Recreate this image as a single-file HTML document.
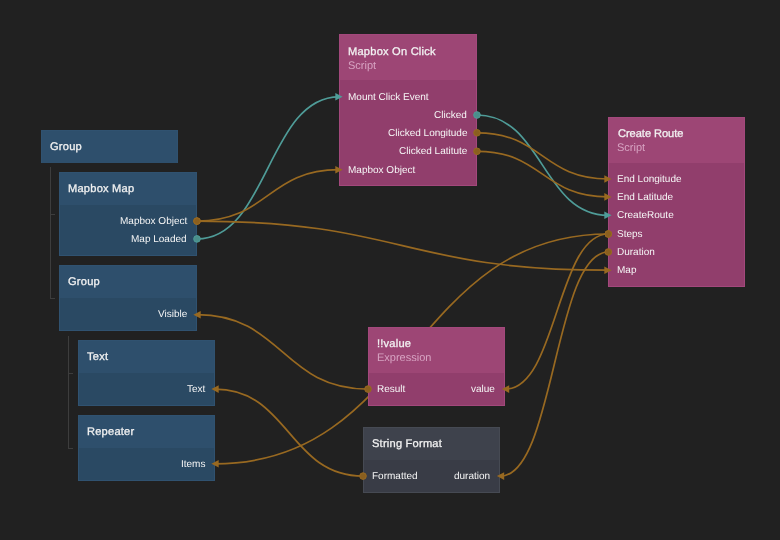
<!DOCTYPE html><html><head><meta charset="utf-8"><style>
*{margin:0;padding:0;box-sizing:border-box}
html,body{width:780px;height:540px;overflow:hidden;background:#212121}
body{position:relative;font-family:"Liberation Sans",sans-serif;color:#f0f0f0;text-rendering:geometricPrecision}
.n{position:absolute;border:1px solid}
.h{position:absolute;left:0;right:0;top:0}
.t{position:absolute;will-change:transform;left:8px;font-size:11.1px;-webkit-text-stroke:0.3px #f2f2f2;line-height:14px;white-space:nowrap;letter-spacing:0.22px;color:#f2f2f2}
.s{position:absolute;will-change:transform;left:8px;font-size:11px;line-height:14px;white-space:nowrap;color:#d7a3c2}
.p{position:absolute;will-change:transform;font-size:10px;letter-spacing:0px;line-height:18px;white-space:nowrap;color:#f6f6f6}
.pl{left:8px}
.pr{right:9px}
.hl{position:absolute;background:#3d3d3d}
svg{position:absolute;left:0;top:0}
</style></head><body>

<svg width="780" height="540" fill="none" stroke-width="1.7"><path d="M197 238.9C268 238.9 268 96.8 339 96.8" stroke="#4f9c98"/><path d="M197 221.1C268 221.1 268 169.7 339 169.7" stroke="#986921"/><path d="M197 221.1C402.5 221.1 402.5 270.2 608 270.2" stroke="#986921"/><path d="M477 115C542.5 115 542.5 215.3 608 215.3" stroke="#4f9c98"/><path d="M477 132.8C542.5 132.8 542.5 179 608 179" stroke="#986921"/><path d="M477 151.3C542.5 151.3 542.5 196.9 608 196.9" stroke="#986921"/><path d="M608.3 234C411.65 234 411.65 463.8 215 463.8" stroke="#986921"/><path d="M608.3 234C556.9 234 556.9 389.1 505.5 389.1" stroke="#986921"/><path d="M608.3 252C554.4 252 554.4 476.1 500.5 476.1" stroke="#986921"/><path d="M368 389.1C282.5 389.1 282.5 314.7 197 314.7" stroke="#986921"/><path d="M363 476.1C289 476.1 289 389.1 215 389.1" stroke="#986921"/></svg>
<div class="hl" style="left:50px;top:167px;width:1px;height:132px"></div>
<div class="hl" style="left:50px;top:213.5px;width:5px;height:1px"></div>
<div class="hl" style="left:50px;top:298px;width:5px;height:1px"></div>
<div class="hl" style="left:68px;top:335.5px;width:1px;height:113px"></div>
<div class="hl" style="left:68px;top:372.5px;width:5px;height:1px"></div>
<div class="hl" style="left:68px;top:447.5px;width:5px;height:1px"></div>
<div class="n" style="left:41px;top:130px;width:137px;height:33px;background:#2a4963;border-color:#305270"><div class="h" style="height:32px;background:#2e4f6c"></div><div class="t" style="top:8.6px">Group</div></div>
<div class="n" style="left:59px;top:172px;width:138px;height:84px;background:#2a4963;border-color:#305270"><div class="h" style="height:32px;background:#2e4f6c"></div><div class="t" style="top:8.6px">Mapbox Map</div><div class="p pr" style="top:40.13px">Mapbox Object</div><div class="p pr" style="top:57.98px">Map Loaded</div></div>
<div class="n" style="left:59px;top:265px;width:138px;height:66px;background:#2a4963;border-color:#305270"><div class="h" style="height:32px;background:#2e4f6c"></div><div class="t" style="top:8.6px">Group</div><div class="p pr" style="top:39.93px">Visible</div></div>
<div class="n" style="left:78px;top:340px;width:137px;height:66px;background:#2a4963;border-color:#305270"><div class="h" style="height:32px;background:#2e4f6c"></div><div class="t" style="top:8.6px">Text</div><div class="p pr" style="top:39.88px">Text</div></div>
<div class="n" style="left:78px;top:415px;width:137px;height:66px;background:#2a4963;border-color:#305270"><div class="h" style="height:32px;background:#2e4f6c"></div><div class="t" style="top:8.6px">Repeater</div><div class="p pr" style="top:40.08px">Items</div></div>
<div class="n" style="left:339px;top:34px;width:138px;height:152.3px;background:#913e6c;border-color:#a3487c"><div class="h" style="height:45.3px;background:#9d4675"></div><div class="t" style="top:9.6px">Mapbox On Click</div><div class="s" style="top:23.9px">Script</div><div class="p pl" style="top:54.18px">Mount Click Event</div><div class="p pr" style="top:72.18px">Clicked</div><div class="p pr" style="top:90.08px">Clicked Longitude</div><div class="p pr" style="top:108.28px">Clicked Latitute</div><div class="p pl" style="top:127.08px">Mapbox Object</div></div>
<div class="n" style="left:608px;top:117px;width:137.4px;height:170px;background:#913e6c;border-color:#a3487c"><div class="h" style="height:45px;background:#9d4675"></div><div class="t" style="top:8.6px;letter-spacing:-0.05px;left:9px">Create Route</div><div class="s" style="top:22.9px">Script</div><div class="p pl" style="top:53.08px">End Longitude</div><div class="p pl" style="top:71.13px">End Latitude</div><div class="p pl" style="top:89.28px">CreateRoute</div><div class="p pl" style="top:108.18px">Steps</div><div class="p pl" style="top:126.38px">Duration</div><div class="p pl" style="top:144.38px">Map</div></div>
<div class="n" style="left:368px;top:327px;width:137.3px;height:78.8px;background:#913e6c;border-color:#a3487c"><div class="h" style="height:45px;background:#9d4675"></div><div class="t" style="top:8.6px">!!value</div><div class="s" style="top:22.9px">Expression</div><div class="p pl" style="top:53.13px">Result</div><div class="p pr" style="top:53.13px">value</div></div>
<div class="n" style="left:363px;top:427px;width:137.1px;height:66px;background:#393c46;border-color:#464a53"><div class="h" style="height:32px;background:#3e424c"></div><div class="t" style="top:8.6px">String Format</div><div class="p pl" style="top:39.93px">Formatted</div><div class="p pr" style="top:39.93px">duration</div></div>
<svg width="780" height="540" stroke-width="1"><path d="M335.3 93L342.6 96.8L335.3 100.6Z" fill="#4f9c98"/><circle cx="197" cy="238.9" r="3.3" fill="#4a8f8b" stroke="#4f9c98" stroke-width="1"/><path d="M335.3 165.9L342.6 169.7L335.3 173.5Z" fill="#986921"/><circle cx="197" cy="221.1" r="3.3" fill="#8a5f1f" stroke="#986921" stroke-width="1"/><path d="M604.3 266.4L611.6 270.2L604.3 274Z" fill="#986921"/><circle cx="197" cy="221.1" r="3.3" fill="#8a5f1f" stroke="#986921" stroke-width="1"/><path d="M604.3 211.5L611.6 215.3L604.3 219.1Z" fill="#4f9c98"/><circle cx="477" cy="115" r="3.3" fill="#4a8f8b" stroke="#4f9c98" stroke-width="1"/><path d="M604.3 175.2L611.6 179L604.3 182.8Z" fill="#986921"/><circle cx="477" cy="132.8" r="3.3" fill="#8a5f1f" stroke="#986921" stroke-width="1"/><path d="M604.3 193.1L611.6 196.9L604.3 200.7Z" fill="#986921"/><circle cx="477" cy="151.3" r="3.3" fill="#8a5f1f" stroke="#986921" stroke-width="1"/><path d="M218.7 460L211.4 463.8L218.7 467.6Z" fill="#986921"/><circle cx="608.3" cy="234" r="3.3" fill="#8a5f1f" stroke="#986921" stroke-width="1"/><path d="M509.2 385.3L501.9 389.1L509.2 392.9Z" fill="#986921"/><circle cx="608.3" cy="234" r="3.3" fill="#8a5f1f" stroke="#986921" stroke-width="1"/><path d="M504.2 472.3L496.9 476.1L504.2 479.9Z" fill="#986921"/><circle cx="608.3" cy="252" r="3.3" fill="#8a5f1f" stroke="#986921" stroke-width="1"/><path d="M200.7 310.9L193.4 314.7L200.7 318.5Z" fill="#986921"/><circle cx="368" cy="389.1" r="3.3" fill="#8a5f1f" stroke="#986921" stroke-width="1"/><path d="M218.7 385.3L211.4 389.1L218.7 392.9Z" fill="#986921"/><circle cx="363" cy="476.1" r="3.3" fill="#8a5f1f" stroke="#986921" stroke-width="1"/></svg>
</body></html>
